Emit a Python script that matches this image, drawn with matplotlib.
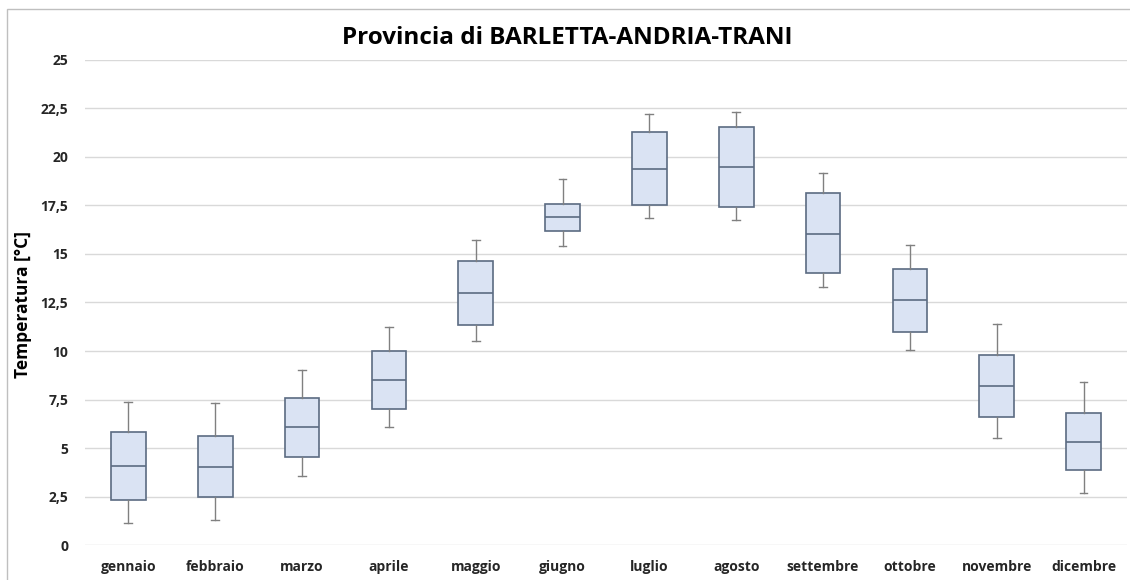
import matplotlib
matplotlib.use("Agg")
import matplotlib.pyplot as plt
from matplotlib.patches import Rectangle

mesi = ["gennaio", "febbraio", "marzo", "aprile", "maggio", "giugno",
        "luglio", "agosto", "settembre", "ottobre", "novembre", "dicembre"]

# valori (°C)
minimo = [1.15, 1.30, 3.54, 6.08, 10.53, 15.43, 16.86, 16.75, 13.28, 10.03, 5.53, 2.66]
q1 = [2.34, 2.46, 4.52, 7.01, 11.34, 16.17, 17.51, 17.40, 14.00, 10.98, 6.61, 3.85]
mediana = [4.07, 4.04, 6.07, 8.50, 13.00, 16.89, 19.40, 19.47, 16.05, 12.61, 8.20, 5.33]
q3 = [5.81, 5.62, 7.58, 10.00, 14.64, 17.58, 21.27, 21.53, 18.13, 14.24, 9.79, 6.80]
massimo = [7.37, 7.30, 9.00, 11.22, 15.70, 18.88, 22.20, 22.30, 19.18, 15.46, 11.38, 8.42]

yticks = [0, 2.5, 5, 7.5, 10, 12.5, 15, 17.5, 20, 22.5, 25]
ytick_labels = ["0", "2,5", "5", "7,5", "10", "12,5", "15", "17,5", "20", "22,5", "25"]

plt.rcParams["font.family"] = ["Open Sans", "DejaVu Sans"]

stats = []
for i, m in enumerate(mesi):
    stats.append({"label": m, "whislo": minimo[i], "q1": q1[i], "med": mediana[i],
                  "q3": q3[i], "whishi": massimo[i], "fliers": []})

fig = plt.figure(figsize=(11.3, 5.8), dpi=100)
ax = fig.add_axes([0.0752, 0.0603, 0.9221, 0.8363])

edge = "#5b6b82"
ax.bxp(stats, positions=range(len(mesi)), widths=0.40, capwidths=0.09,
       patch_artist=True, showfliers=False,
       boxprops=dict(facecolor="#dae3f3", edgecolor=edge, linewidth=1.2),
       medianprops=dict(color=edge, linewidth=1.2),
       whiskerprops=dict(color="#808080", linewidth=1.0),
       capprops=dict(color="#808080", linewidth=1.0))

ax.set_xlim(-0.5, len(mesi) - 0.5)
ax.set_ylim(0, 25)
ax.set_yticks(yticks)
ax.set_yticklabels(ytick_labels)
ax.set_xticks(range(len(mesi)))
ax.set_xticklabels(mesi)
for lab in ax.get_xticklabels() + ax.get_yticklabels():
    lab.set_fontweight("bold")
    lab.set_fontsize(10)
    lab.set_color("#262626")
ax.tick_params(axis="x", length=0, pad=11)
ax.tick_params(axis="y", length=0, pad=12)
ax.grid(axis="y", color="#d9d9d9", linewidth=1.0)
ax.set_axisbelow(True)
for s in ax.spines.values():
    s.set_visible(False)

ax.set_ylabel("Temperatura [°C]", fontsize=12.5, fontweight="bold")
ax.yaxis.set_label_coords(-0.051, 0.495)
fig.text(0.502, 0.935, "Provincia di BARLETTA-ANDRIA-TRANI", ha="center", va="center",
         fontsize=17.5, fontweight="bold", color="black")

fig.patches.append(Rectangle((0.006, -0.01), 1.0, 0.995, transform=fig.transFigure,
                             fill=False, edgecolor="#bfbfbf", linewidth=1.0))

fig.savefig("out.png", dpi=100)
